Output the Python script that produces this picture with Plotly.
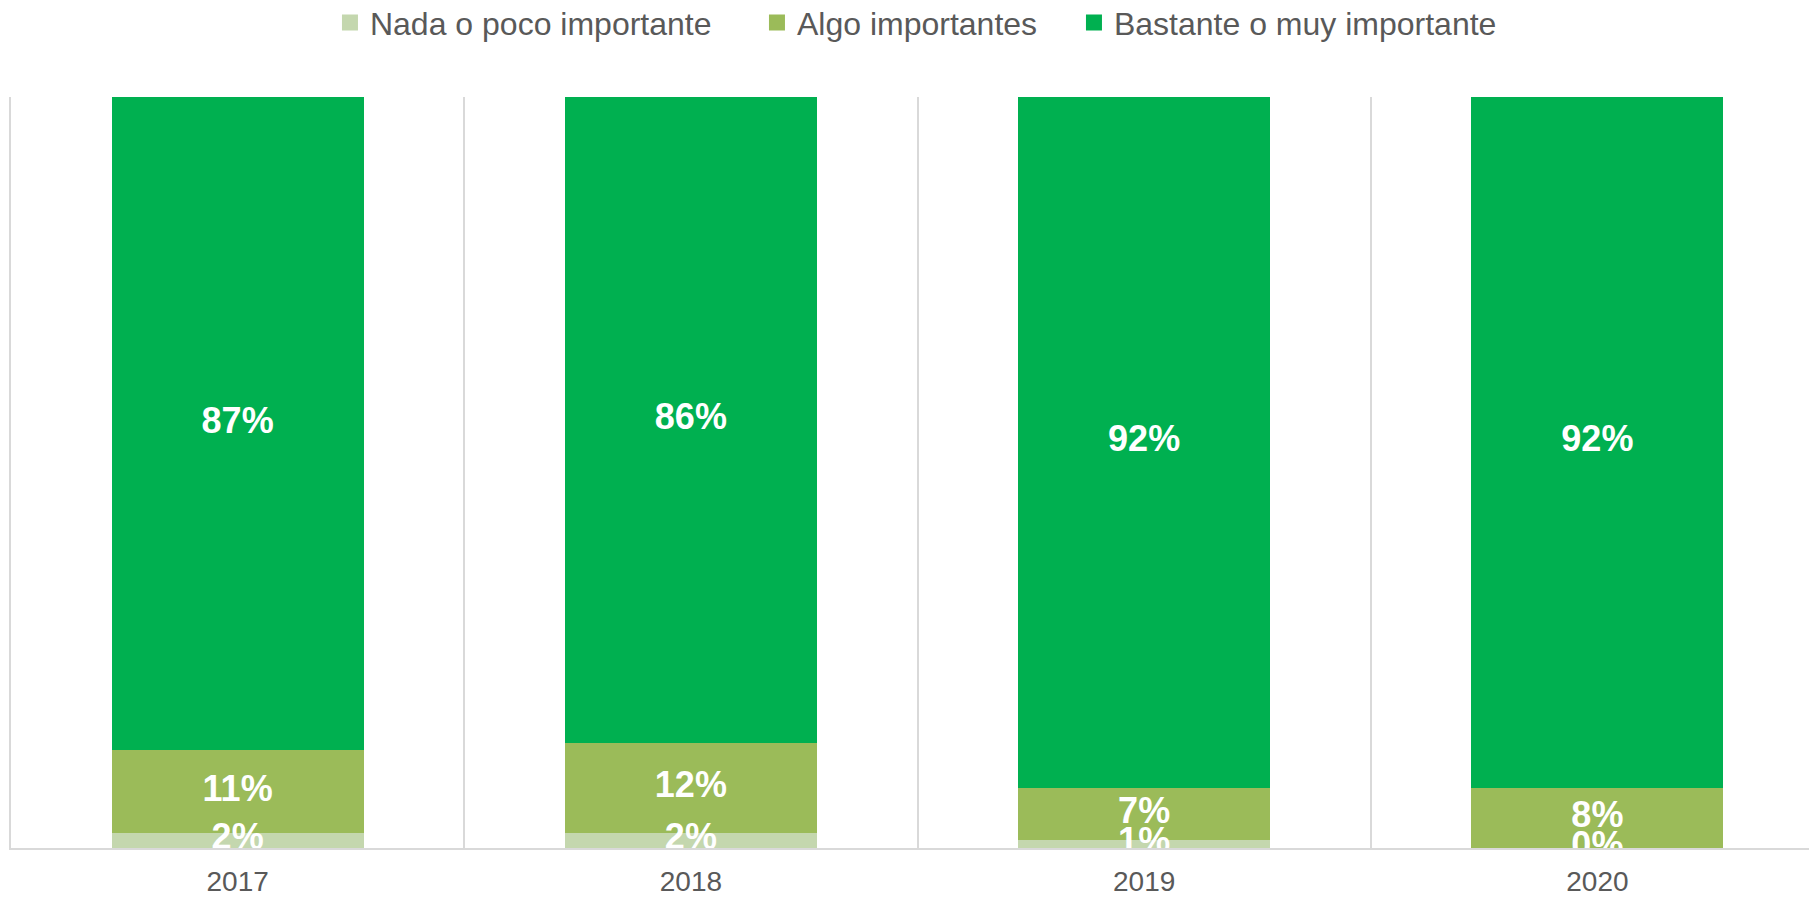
import plotly.graph_objects as go

# Survey answers per year (percent of respondents)
years = ["2017", "2018", "2019", "2020"]
nada_poco = [2, 2, 1, 0]
algo = [11, 12, 7, 8]
bastante_muy = [87, 86, 92, 92]

series_names = ["Nada o poco importante", "Algo importantes", "Bastante o muy importante"]
series_values = [nada_poco, algo, bastante_muy]
series_colors = ["#C4D7AE", "#9BBB59", "#00B050"]
legend_widths = [382, 272, 380]

fig = go.Figure()

for name, vals, color in zip(series_names, series_values, series_colors):
    fig.add_trace(go.Bar(
        x=years, y=vals, name=name,
        marker=dict(color=color, line=dict(width=0)),
        showlegend=False,
        hoverinfo="skip",
    ))

# Legend entries with square keys
for name, color, lw in zip(series_names, series_colors, legend_widths):
    fig.add_trace(go.Scatter(
        x=[None], y=[None], mode="markers", name=name,
        marker=dict(symbol="square", size=16, color=color),
        legendwidth=lw,
        hoverinfo="skip",
    ))

# Value labels centred in each stacked segment (clipped by the plot area)
base = [0] * len(years)
for vals in series_values:
    centers = [b + v / 2 for b, v in zip(base, vals)]
    fig.add_trace(go.Scatter(
        x=years, y=centers, mode="text",
        text=[f"{v}%" for v in vals],
        textfont=dict(family="Liberation Sans", size=36, color="white", weight="bold"),
        textposition="middle center",
        cliponaxis=True,
        showlegend=False, hoverinfo="skip",
    ))
    base = [b + v for b, v in zip(base, vals)]

fig.update_layout(
    barmode="stack",
    bargap=0.444,
    width=1809, height=897,
    margin=dict(l=11, r=0, t=97, b=49, autoexpand=False),
    paper_bgcolor="white", plot_bgcolor="white",
    font=dict(family="Liberation Sans", color="#595959"),
    showlegend=True,
    legend=dict(
        orientation="h",
        x=0.1774, xanchor="left",
        y=1.099, yanchor="middle",
        font=dict(size=32, color="#595959"),
        traceorder="normal",
        itemsizing="trace",
        bgcolor="rgba(0,0,0,0)",
    ),
    xaxis=dict(
        type="category",
        range=[-0.5, 3.5 - 15 / 453],
        tickson="boundaries",
        showgrid=True, gridcolor="#D9D9D9", gridwidth=1.5,
        showline=True, linecolor="#D9D9D9", linewidth=2,
        ticks="",
        ticklabelstandoff=7,
        tickfont=dict(size=28, color="#595959"),
        fixedrange=True,
    ),
    yaxis=dict(
        range=[0, 100],
        showticklabels=False, ticks="",
        showline=True, linecolor="#D9D9D9", linewidth=1.5,
        showgrid=False, zeroline=False,
        fixedrange=True,
    ),
)

fig.write_html("out.html")
